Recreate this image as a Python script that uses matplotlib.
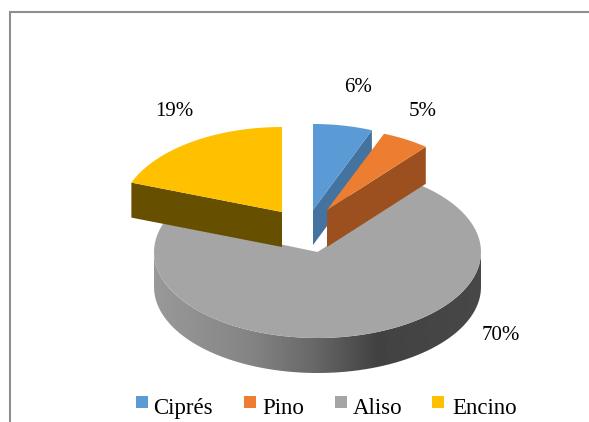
import numpy as np
import matplotlib
matplotlib.use('Agg')
import matplotlib.pyplot as plt
from matplotlib.patches import Polygon, Rectangle

labels = ['Ciprés', 'Pino', 'Aliso', 'Encino']
values = [6, 5, 70, 19]
pct_labels = ['6%', '5%', '70%', '19%']

top_colors = ['#5B9BD5', '#ED7D31', '#A5A5A5', '#FFC000']
side_colors = ['#44739F', '#9C501F', '#8A8A8A', '#665000']

# ellipse of each exploded slice, in picture pixels: cx, cy, rx, ry
ellipses = [(313, 213, 160, 89), (327, 210, 155, 82), (317.5, 252, 163.5, 86), (282, 215, 162, 88)]
apexes = [(313, 210), (327, 210), (317.5, 252), (282, 212)]
depths = [35, 37, 35, 35]
label_pos = [(358, 87), (423, 112), (501, 335), (174, 111)]
legend_box_x = [135.5, 244, 335, 432]
legend_text_x = [153, 262, 353, 452]

plt.rcParams['font.family'] = ['Liberation Serif', 'DejaVu Serif']

fig = plt.figure(figsize=(5.89, 4.22), dpi=100)
ax = fig.add_axes([0, 0, 1, 1])
ax.set_axis_off()


def arc(ell, a0, a1, n=80):
    # angles run clockwise from the top of the pie, in degrees
    t = np.radians(np.linspace(a0, a1, n))
    return np.column_stack([ell[0] + ell[2] * np.sin(t), ell[1] - ell[3] * np.cos(t)])


# slice angles come straight from the values
edges = np.concatenate([[0], np.cumsum(values)]) / np.sum(values) * 360.

# frame of the chart area, only top and left show
ax.plot([10, 10, 589], [422, 12, 12], color='#8E8E8E', lw=1.5, solid_joinstyle='miter')

# Aliso first, it lies behind everything
i = 2
ell = ellipses[i]
front = arc(ell, max(edges[i], 90), min(edges[i + 1], 270))
side = np.vstack([front, front[::-1] + [0, depths[i]]])
clip = Polygon(side, closed=True, transform=ax.transData, fc='none', ec='none')
ax.add_patch(clip)
shade = np.interp(np.linspace(0, 1, 256), [0, 0.29, 0.486, 0.68, 1], [0.60, 0.52, 0.41, 0.26, 0.28])
im = ax.imshow(shade[np.newaxis, :], cmap='gray', vmin=0, vmax=1, aspect='auto',
               extent=[ell[0] - ell[2], ell[0] + ell[2], 422, 0], interpolation='bilinear')
im.set_clip_path(clip)
wedge = np.vstack([[apexes[i]], arc(ell, edges[i], edges[i + 1])])
ax.add_patch(Polygon(wedge, closed=True, fc=top_colors[i], ec='none'))

# the others: radial side face, then top
for i, face_angle in [(3, edges[3]), (0, edges[1]), (1, edges[2])]:
    ell = ellipses[i]
    outer = arc(ell, face_angle, face_angle, 1)[0]
    apex = np.array(apexes[i], dtype=float)
    face = np.array([apex, outer, outer + [0, depths[i]], apex + [0, depths[i]]])
    ax.add_patch(Polygon(face, closed=True, fc=side_colors[i], ec='none'))
    wedge = np.vstack([[apexes[i]], arc(ell, edges[i], edges[i + 1])])
    ax.add_patch(Polygon(wedge, closed=True, fc=top_colors[i], ec='none'))

for txt, pos in zip(pct_labels, label_pos):
    ax.text(pos[0], pos[1], txt, ha='center', va='center', fontsize=15, color='black')

# legend by hand, the squares sit well above the text baseline
for name, col, bx, tx in zip(labels, top_colors, legend_box_x, legend_text_x):
    ax.add_patch(Rectangle((bx, 396), 12, 12, fc=col, ec='none'))
    ax.text(tx, 414, name, ha='left', va='baseline', fontsize=16.5, color='black')

ax.set_xlim(0, 589)
ax.set_ylim(422, 0)

fig.savefig('out.png', dpi=100)
